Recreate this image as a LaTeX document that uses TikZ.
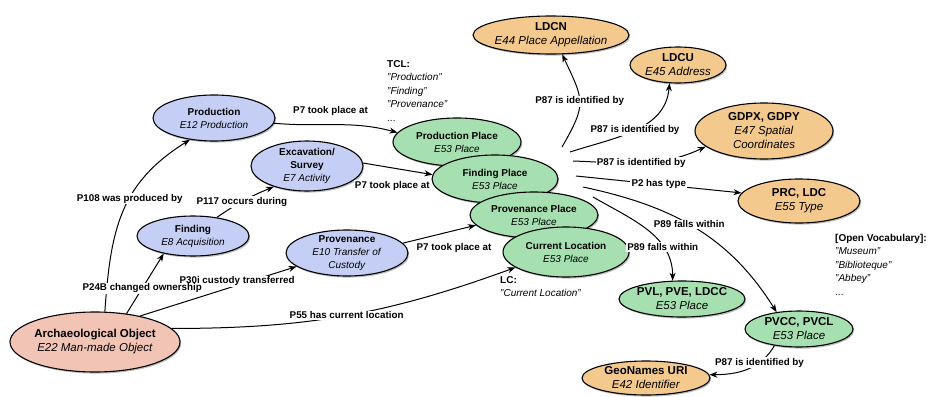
\documentclass[tikz,border=0pt]{standalone}
\usepackage{fontspec}
\setmainfont{Liberation Sans}
\usepackage{xcolor}
\usepackage{tikz}
\usetikzlibrary{positioning,calc,shapes.geometric,arrows.meta,shadows}

\definecolor{actblue}{RGB}{197,207,245}
\definecolor{placegreen}{RGB}{166,224,176}
\definecolor{apporange}{RGB}{243,201,141}
\definecolor{objpink}{RGB}{241,196,182}

\tikzset{
	ent/.style={ellipse, draw=black, line width=1.1pt, inner sep=0pt, drop shadow={shadow xshift=1.2pt, shadow yshift=-1.6pt, opacity=0.5}},
	act/.style={ent, fill=actblue},
	plc/.style={ent, fill=placegreen},
	app/.style={ent, fill=apporange},
	obj/.style={ent, fill=objpink},
	sz/.style 2 args={minimum width=#1pt, minimum height=#2pt},
	sm/.style={align=center, inner sep=0pt, font=\fontsize{10}{13}\selectfont},
	lg/.style={align=center, inner sep=0pt, font=\fontsize{11.5}{14}\selectfont},
	rel/.style={draw=black, line width=1pt, -{Stealth[length=8pt,width=6pt,inset=2.5pt]}},
	lbl/.style={fill=white, inner sep=1.2pt, font=\fontsize{9.8}{11}\selectfont\bfseries},
	note/.style={align=left, anchor=north west, inner sep=0pt, font=\fontsize{10}{13.5}\selectfont}
}

\begin{document}
\begin{tikzpicture}[x=1pt, y=-1pt]
	\useasboundingbox (0,0) rectangle (933,396);

	\node[obj, sz={170}{60}] (ao) at (95,342) {};
	\node[lg] (ao-t) at (ao) {\textbf{Archaeological Object}\\\textit{E22 Man-made Object}};

	\node[act, sz={122}{46}] (prod) at (214,118) {};
	\node[sm] (prod-t) at (prod) {\textbf{Production}\\\textit{E12 Production}};
	\node[act, sz={112}{50}] (exc) at (307,166) {};
	\node[sm] (exc-t) at (exc) {\textbf{Excavation/}\\\textbf{Survey}\\\textit{E7 Activity}};
	\node[act, sz={112}{40}] (find) at (193,236) {};
	\node[sm] (find-t) at (find) {\textbf{Finding}\\\textit{E8 Acquisition}};
	\node[act, sz={122}{46}] (prov) at (347,253) {};
	\node[sm] (prov-t) at (prov) {\textbf{Provenance}\\\textit{E10 Transfer of}\\\textit{Custody}};

	\node[plc, sz={128}{48}] (pp) at (457,142) {};
	\node[sm] (pp-t) at (pp) {\textbf{Production Place}\\\textit{E53 Place}};
	\node[plc, sz={126}{48}] (fp) at (495,179) {};
	\node[sm] (fp-t) at (fp) {\textbf{Finding Place}\\\textit{E53 Place}};
	\node[plc, sz={128}{46}] (ppl) at (534,215) {};
	\node[sm] (ppl-t) at (ppl) {\textbf{Provenance Place}\\\textit{E53 Place}};
	\node[plc, sz={126}{50}] (cl) at (566,252) {};
	\node[sm] (cl-t) at (cl) {\textbf{Current Location}\\\textit{E53 Place}};

	\node[app, sz={156}{38}] (ldcn) at (551,35) {};
	\node[lg] (ldcn-t) at (ldcn) {\textbf{LDCN}\\\textit{E44 Place Appellation}};
	\node[app, sz={96}{36}] (ldcu) at (678,65) {};
	\node[lg] (ldcu-t) at (ldcu) {\textbf{LDCU}\\\textit{E45 Address}};
	\node[app, sz={138}{56}] (gdpx) at (764,131) {};
	\node[lg] (gdpx-t) at (gdpx) {\textbf{GDPX, GDPY}\\\textit{E47 Spatial}\\\textit{Coordinates}};
	\node[app, sz={122}{44}] (prc) at (799,201) {};
	\node[lg] (prc-t) at (prc) {\textbf{PRC, LDC}\\\textit{E55 Type}};
	\node[plc, sz={126}{36}] (pvl) at (682,299) {};
	\node[lg] (pvl-t) at (pvl) {\textbf{PVL, PVE, LDCC}\\\textit{E53 Place}};
	\node[plc, sz={108}{36}] (pvcc) at (799,329) {};
	\node[lg] (pvcc-t) at (pvcc) {\textbf{PVCC, PVCL}\\\textit{E53 Place}};
	\node[app, sz={128}{34}] (geo) at (646,378) {};
	\node[lg] (geo-t) at (geo) {\textbf{GeoNames URI}\\\textit{E42 Identifier}};

	\node[note] (tcl) at (387,60) {\textbf{TCL:}\\\textit{"Production"}\\\textit{"Finding"}\\\textit{"Provenance"}\\...};
	\node[note] (lc) at (500,276) {\textbf{LC:}\\\textit{"Current Location"}};
	\node[note] (voc) at (835,234) {\textbf{[Open Vocabulary]:}\\\textit{"Museum"}\\\textit{"Biblioteque"}\\\textit{"Abbey"}\\...};

	\draw[rel] (ao.72) to[out=86, in=-148, looseness=1.1] node[lbl, pos=0.58] {P108 was produced by} (prod.222);
	\draw[rel] (ao.30) -- node[lbl, pos=0.62, yshift=4pt] {P30i custody transferred} (prov.195);
	\draw[rel] (ao.42) -- node[lbl, pos=0.42] {P24B changed ownership} (find.211);
	\draw[rel] (ao.10) to[out=0, in=200] node[lbl, pos=0.5] {P55 has current location} (cl.197);
	\draw[rel] (find.38) to[bend left=6] node[lbl, pos=0.45] {P117 occurs during} (exc.212);
	\draw[rel] (prod.-5) to[out=-5, in=165] node[lbl, above=8pt, pos=0.45] {P7 took place at} (pp.171);
	\draw[rel] (exc.3) -- node[lbl, below=12pt, pos=0.42] {P7 took place at} (fp.176);
	\draw[rel] (prov.10) -- node[lbl, below=11pt, pos=0.7] {P7 took place at} (ppl.190);

	\coordinate (s1) at (562,147);
	\coordinate (s2) at (570,152);
	\coordinate (s3) at (573,161);
	\coordinate (s4) at (576,176);
	\coordinate (s5) at (583,187);
	\coordinate (s6) at (593,197);

	\draw[rel] (s1) to[out=60, in=-65, looseness=1.4] node[lbl, pos=0.5] {P87 is identified by} (ldcn.-60);
	\draw[rel] (s2) to[out=18, in=-95] node[lbl, pos=0.5] {P87 is identified by} (ldcu.-115);
	\draw[rel] (s3) to[out=-2, in=205] node[lbl, pos=0.5] {P87 is identified by} (gdpx.195);
	\draw[rel] (s4) -- node[lbl, pos=0.5] {P2 has type} (prc.172);
	\draw[rel] (s5) to[out=-12, in=122] node[lbl, pos=0.47] {P89 falls within} (pvcc.143);
	\draw[rel] (s6) to[out=-30, in=90] node[lbl, pos=0.7] {P89 falls within} (pvl.117);
	\draw[rel] (pvcc.214) to[out=-120, in=0] node[lbl, pos=0.3] {P87 is identified by} (geo.3);
\end{tikzpicture}
\end{document}
